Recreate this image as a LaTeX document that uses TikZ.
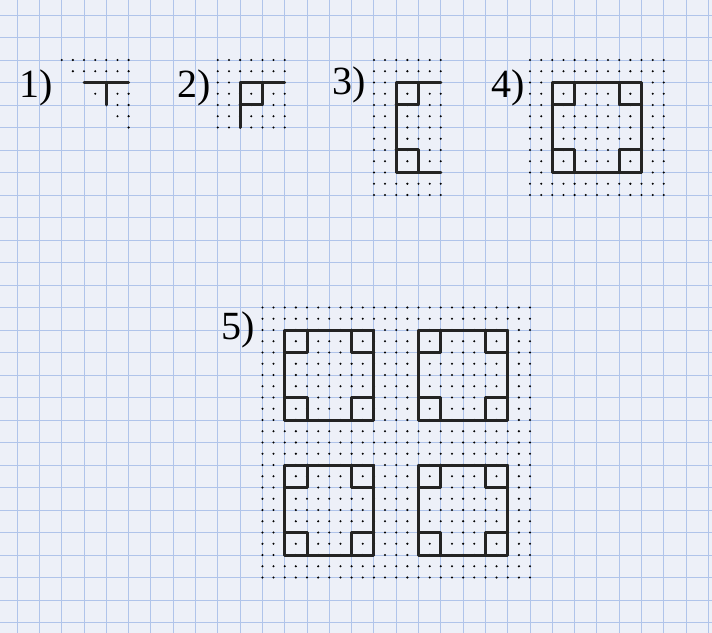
\documentclass[tikz,border=0pt]{standalone}
\usepackage{fontspec}
\setmainfont{Liberation Serif}
\definecolor{paper}{RGB}{237,240,248}
\definecolor{gridblue}{RGB}{176,196,234}
\definecolor{ink}{RGB}{35,35,35}
\tikzset{
  inkline/.style={draw=ink, line width=3pt, line join=round, line cap=round},
  gridline/.style={draw=gridblue, line width=0.9pt},
  lbl/.style={font=\fontsize{40}{44}\selectfont, text=black, inner sep=0pt},
  motif/.pic={
    \draw[inkline] (0,0) rectangle (8,8);
    \draw[inkline] (0,2) -- (2,2) -- (2,0);
    \draw[inkline] (6,0) -- (6,2) -- (8,2);
    \draw[inkline] (0,6) -- (2,6) -- (2,8);
    \draw[inkline] (6,8) -- (6,6) -- (8,6);
  }
}
\newcommand{\dotat}[2]{\fill[black] (#1,#2) circle (1.15pt);}
\begin{document}
\begin{tikzpicture}[x=11.15pt, y=-11.25pt]
% page (pixel 0,0 .. 712,633)
\fill[paper] (-5.534,-5.333) rectangle (58.32,50.93);
\useasboundingbox (-5.534,-5.333) rectangle (58.32,50.93);
% grid paper
\foreach \i in {-4,-2,...,58} \draw[gridline] (\i,-5.333) -- (\i,50.93);
\foreach \j in {-4,-2,...,50} \draw[gridline] (-5.534,\j) -- (58.32,\j);
% dots, figure 1
\foreach \i in {0,...,6} {\dotat{\i}{0}}
\foreach \i in {1,...,6} {\dotat{\i}{1}}
\foreach \a/\b in {3/3,5/3,6/3,5/4,6/4,5/5,6/5,6/6} {\dotat{\a}{\b}}
% dots, figure 2
\foreach \i in {14,...,20} \foreach \j in {0,...,6} {\dotat{\i}{\j}}
% dots, figure 3
\foreach \i in {28,...,34} \foreach \j in {0,...,12} {\dotat{\i}{\j}}
% dots, figure 4
\foreach \i in {42,...,54} \foreach \j in {0,...,12} {\dotat{\i}{\j}}
% dots, figure 5
\foreach \i in {18,...,42} \foreach \j in {22,...,46} {\dotat{\i}{\j}}
% figure 1
\draw[inkline] (2,2) -- (6,2);
\draw[inkline] (4,2) -- (4,4);
% figure 2
\draw[inkline] (20,2) -- (16,2) -- (16,6);
\draw[inkline] (16,4) -- (18,4) -- (18,2);
% figure 3
\draw[inkline] (34,2) -- (30,2) -- (30,10) -- (34,10);
\draw[inkline] (30,4) -- (32,4) -- (32,2);
\draw[inkline] (30,8) -- (32,8) -- (32,10);
% figure 4
\pic at (44,2) {motif};
% figure 5
\pic at (20,24) {motif};
\pic at (32,24) {motif};
\pic at (20,36) {motif};
\pic at (32,36) {motif};
% labels
\node[lbl] (l1) at (-2.3,2.45) {1)};
\node[lbl] (l2) at (11.87,2.45) {2)};
\node[lbl] (l3) at (25.77,2.2) {3)};
\node[lbl] (l4) at (40.03,2.45) {4)};
\node[lbl] (l5) at (15.81,24.0) {5)};
\end{tikzpicture}
\end{document}
